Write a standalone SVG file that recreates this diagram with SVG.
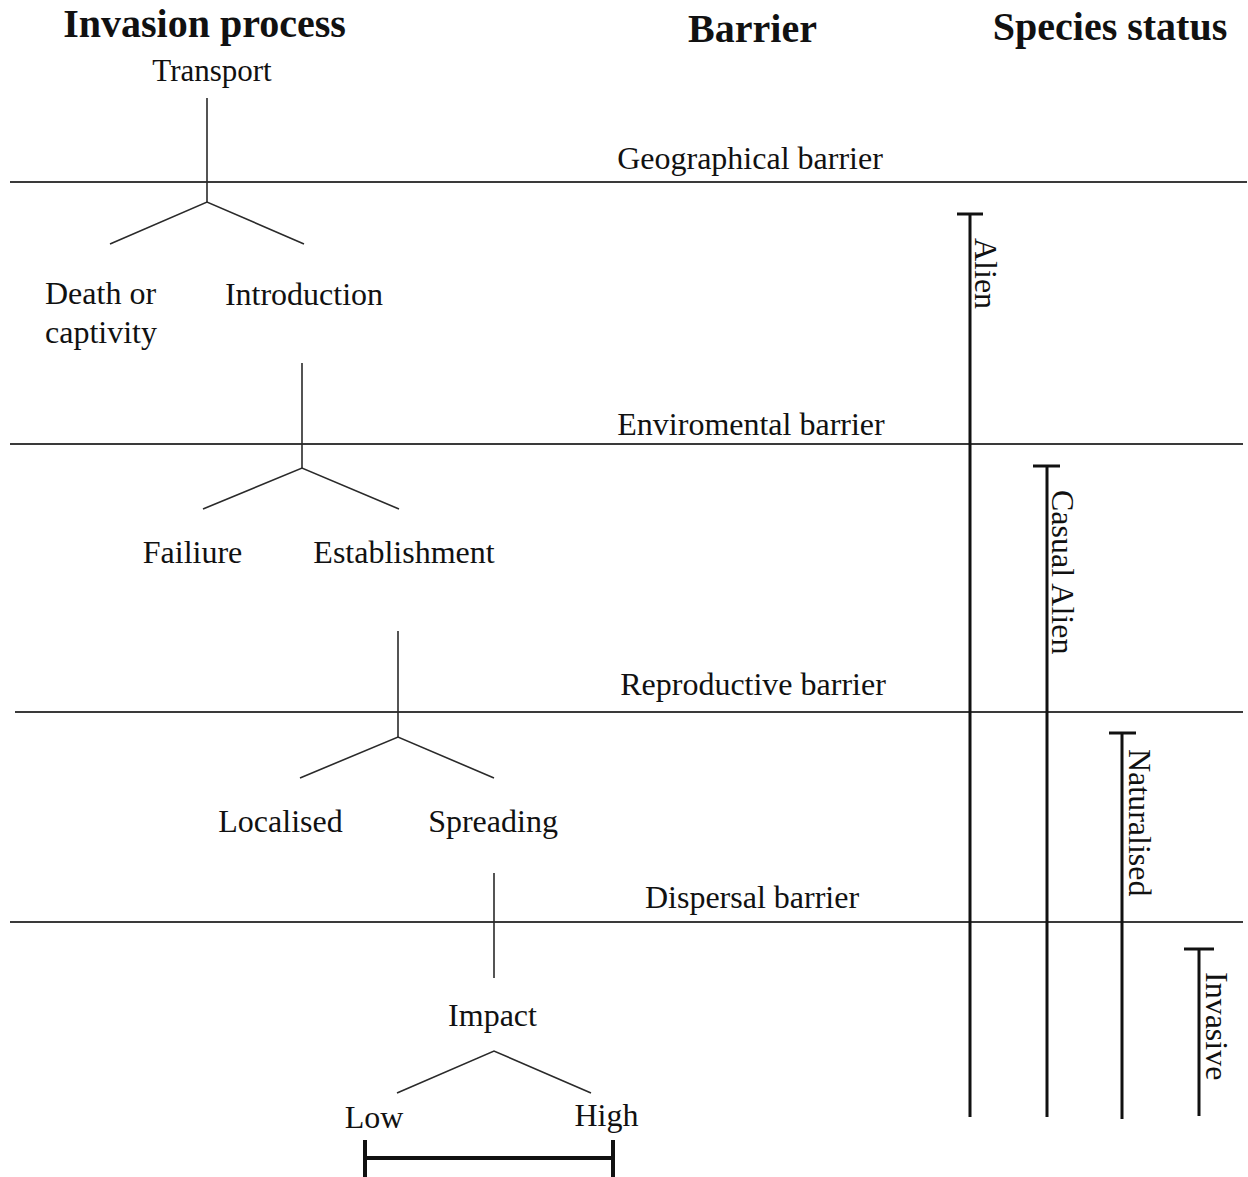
<svg xmlns="http://www.w3.org/2000/svg" width="1248" height="1177" viewBox="0 0 1248 1177">
<style>
text{font-family:"Liberation Serif","Times New Roman",serif;fill:#111;font-size:32px}
.h{font-weight:bold;font-size:40px;text-anchor:middle}
.c{text-anchor:middle}
.bl{stroke:#3a3a3a;stroke-width:2;fill:none}
.tr{stroke:#2a2a2a;stroke-width:1.6;fill:none}
.bar{stroke:#111;stroke-width:3;fill:none}
.sc{stroke:#111;stroke-width:4;fill:none}
</style>
<rect width="1248" height="1177" fill="#fff"/>
<g id="headers">
<text class="h" x="204.5" y="37">Invasion process</text>
<text class="h" x="752.5" y="42">Barrier</text>
<text class="h" x="1110" y="40">Species status</text>
</g>
<g id="connectors">
<line class="bl" x1="10" y1="182" x2="1247" y2="182"/>
<line class="bl" x1="10" y1="444" x2="1243" y2="444"/>
<line class="bl" x1="15" y1="712" x2="1243" y2="712"/>
<line class="bl" x1="10" y1="922" x2="1243" y2="922"/>
<polyline class="tr" points="207,98 207,202"/>
<polyline class="tr" points="110,244 207,202 304,244"/>
<polyline class="tr" points="302,363 302,468"/>
<polyline class="tr" points="203,509 302,468 399,509"/>
<polyline class="tr" points="398,631 398,737"/>
<polyline class="tr" points="300,778 398,737 494,778"/>
<polyline class="tr" points="494,873 494,978"/>
<polyline class="tr" points="397,1093 494,1051 591,1093"/>
</g>
<g id="barrier-labels">
<text class="c" x="750" y="169">Geographical barrier</text>
<text class="c" x="751" y="435">Enviromental barrier</text>
<text class="c" x="753" y="695">Reproductive barrier</text>
<text class="c" x="752" y="908">Dispersal barrier</text>
</g>
<g id="transport"><text class="c" x="212" y="81" style="font-size:31px">Transport</text></g>
<g id="death"><text x="45" y="304">Death or</text><text x="45" y="343">captivity</text></g>
<g id="introduction"><text class="c" x="304" y="305">Introduction</text></g>
<g id="failure"><text class="c" x="192.5" y="563">Failiure</text></g>
<g id="establishment"><text class="c" x="404" y="563">Establishment</text></g>
<g id="localised"><text class="c" x="280.5" y="832">Localised</text></g>
<g id="spreading"><text class="c" x="493" y="832">Spreading</text></g>
<g id="impact"><text class="c" x="492.5" y="1026">Impact</text></g>
<g id="scale">
<text class="c" x="374" y="1128">Low</text>
<text class="c" x="606.5" y="1126">High</text>
<line class="sc" x1="365" y1="1158" x2="613" y2="1158"/>
<line class="sc" x1="365" y1="1140" x2="365" y2="1177"/>
<line class="sc" x1="613" y1="1140" x2="613" y2="1177"/>
</g>
<g id="alien">
<line class="bar" x1="970" y1="214" x2="970" y2="1117"/>
<line class="bar" x1="957" y1="214" x2="983" y2="214"/>
<text transform="translate(975,238) rotate(90)">Alien</text>
</g>
<g id="casual-alien">
<line class="bar" x1="1047" y1="466" x2="1047" y2="1117"/>
<line class="bar" x1="1033" y1="466" x2="1060" y2="466"/>
<text transform="translate(1052,490) rotate(90)">Casual Alien</text>
</g>
<g id="naturalised">
<line class="bar" x1="1122" y1="733" x2="1122" y2="1119"/>
<line class="bar" x1="1109" y1="733" x2="1136" y2="733"/>
<text transform="translate(1129,749) rotate(90)">Naturalised</text>
</g>
<g id="invasive">
<line class="bar" x1="1199" y1="949" x2="1199" y2="1116"/>
<line class="bar" x1="1184" y1="949" x2="1214" y2="949"/>
<text transform="translate(1206,972) rotate(90)">Invasive</text>
</g>
</svg>
